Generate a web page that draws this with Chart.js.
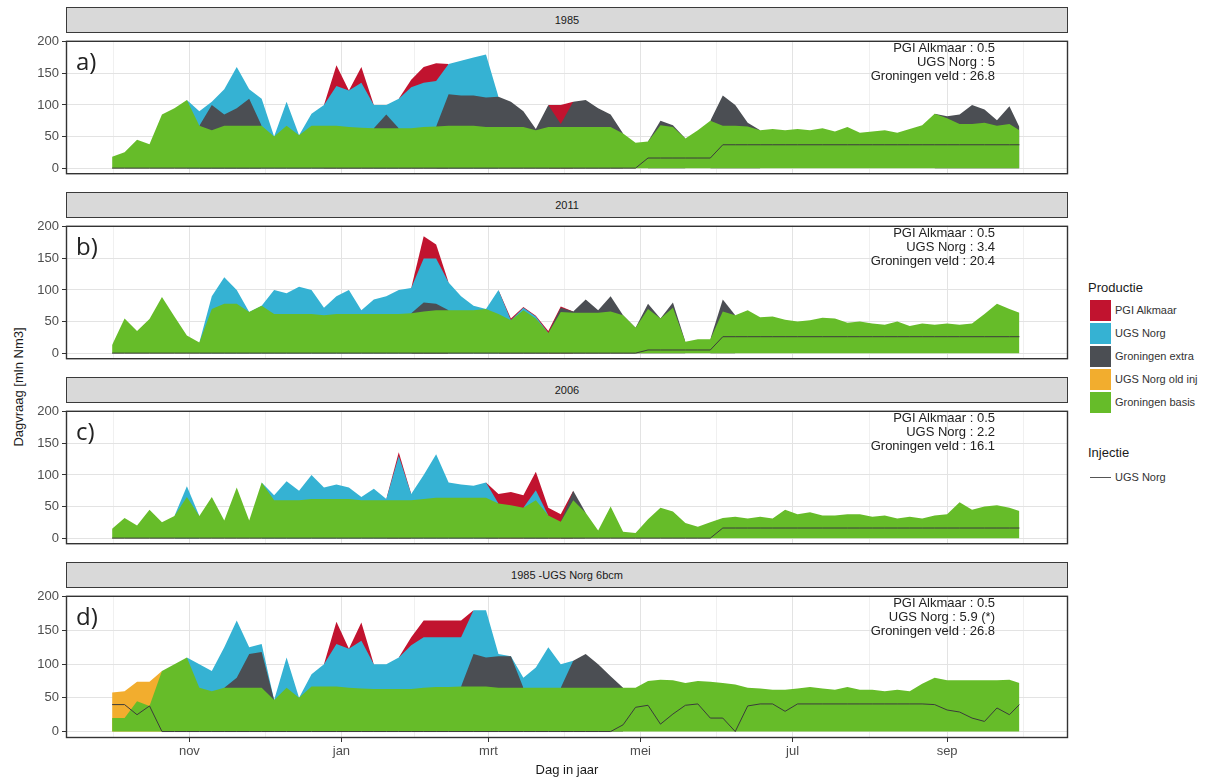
<!DOCTYPE html>
<html>
<head>
<meta charset="utf-8">
<title>Dagvraag per dag in jaar</title>
<script src="https://cdn.jsdelivr.net/npm/chart.js@4.4.1/dist/chart.umd.min.js"></script>
<style>
  html, body { margin: 0; padding: 0; background: #fff; }
  body { width: 1214px; height: 782px; position: relative; overflow: hidden; font-family: "Liberation Sans", Arial, sans-serif; }
  canvas { position: absolute; left: 0; }
  .strip { position: absolute; left: 66px; width: 1002px; height: 26px; box-sizing: border-box; background: #d9d9d9; border: 1px solid #3a3a3a; font-size: 11px; color: #1a1a1a; text-align: center; line-height: 24px; }
  .tag { position: absolute; left: 76px; font-family: "Open Sans", sans-serif; font-size: 24px; line-height: 24px; color: #222; }
  .note { position: absolute; right: 219px; text-align: right; font-size: 13px; line-height: 14px; color: #222; white-space: nowrap; }
  .ytitle { position: absolute; left: 18px; top: 387px; transform: translate(-50%, -50%) rotate(-90deg); font-size: 13px; color: #1a1a1a; white-space: nowrap; }
  .legtitle { position: absolute; left: 1088px; font-size: 13px; color: #1a1a1a; }
  .legbox { position: absolute; left: 1090px; width: 21px; height: 21px; }
  .legtext { position: absolute; left: 1115px; font-size: 11px; color: #333; line-height: 21px; white-space: nowrap; }
  .legline { position: absolute; left: 1090px; width: 21px; height: 1px; background: #555; }
</style>
</head>
<body>
<div class="ytitle">Dagvraag [mln Nm3]</div>

<div class="legtitle" style="top:280px">Productie</div>
<div class="legbox" style="top:300px;background:#c1132f"></div><div class="legtext" style="top:300px">PGI Alkmaar</div>
<div class="legbox" style="top:323px;background:#35b2d3"></div><div class="legtext" style="top:323px">UGS Norg</div>
<div class="legbox" style="top:346px;background:#4b4e53"></div><div class="legtext" style="top:346px">Groningen extra</div>
<div class="legbox" style="top:369px;background:#f2ad2e"></div><div class="legtext" style="top:369px">UGS Norg old inj</div>
<div class="legbox" style="top:392px;background:#66bc29"></div><div class="legtext" style="top:392px">Groningen basis</div>
<div class="legtitle" style="top:445px">Injectie</div>
<div class="legline" style="top:477px"></div><div class="legtext" style="top:467px">UGS Norg</div>

<script>
// day of gas year (0 = 1 okt), sampled every 5 days
const days = [0,5,10,15,20,25,30,35,40,45,
  50,55,60,65,70,75,80,85,90,95,
  100,105,110,115,120,125,130,135,140,145,
  150,155,160,165,170,175,180,185,190,195,
  200,205,210,215,220,225,230,235,240,245,
  250,255,260,265,270,275,280,285,290,295,
  300,305,310,315,320,325,330,335,340,345,
  350,355,360,364];

const monthDays = [31, 92, 151, 212, 273, 335];
const monthNames = ['nov', 'jan', 'mrt', 'mei', 'jul', 'sep'];
const minorDays = [0.5, 61.5, 121.5, 181.5, 242.5, 304, 365.5];
const yTicks = [0, 25, 50, 75, 100, 125, 150, 175, 200];

const _ = null;

// upper edge of every band (mln Nm3)
// a) 1985
const aBasis = [18,25,45,38,85,95,108,67,60,67,
  67,67,67,50,67,52,67,67,67,65,
  64,63,63,63,63,65,66,67,67,67,
  65,65,65,65,60,65,65,65,65,65,
  65,55,40,42,68,65,47,60,75,67,
  67,66,60,62,60,62,60,63,58,65,
  56,58,60,56,62,68,86,79,70,70,
  72,67,70,60];
const aExtra = [_,_,_,_,_,_,_,67,100,85,
  95,110,67,_,_,_,_,_,_,_,
  _,63,85,63,_,_,66,117,115,115,
  112,113,105,90,62,100,70,105,108,95,
  85,55,_,42,75,68,47,_,75,115,
  100,72,60,_,_,_,_,_,_,_,
  _,_,_,_,_,_,86,82,85,100,
  93,76,98,65];
const aUgs = [_,_,_,_,_,_,108,90,105,125,
  160,125,110,50,105,52,86,100,130,123,
  135,100,100,110,128,135,138,165,170,175,
  180,113,_,_,_,_,_,_,_,_,
  _,_,_,_,_,_,_,_,_,_,
  _,_,_,_,_,_,_,_,_,_,
  _,_,_,_,_,_,_,_,_,_,
  _,_,_,_];
const aPgi = [_,_,_,_,_,_,_,_,_,_,
  _,_,_,_,_,_,_,100,163,123,
  160,100,_,110,140,160,166,165,_,_,
  _,_,_,_,_,100,100,105,_,_,
  _,_,_,_,_,_,_,_,_,_,
  _,_,_,_,_,_,_,_,_,_,
  _,_,_,_,_,_,_,_,_,_,
  _,_,_,_];
const aInj = [0,0,0,0,0,0,0,0,0,0,
  0,0,0,0,0,0,0,0,0,0,
  0,0,0,0,0,0,0,0,0,0,
  0,0,0,0,0,0,0,0,0,0,
  0,0,0,16,16,16,16,16,16,37,
  37,37,37,37,37,37,37,37,37,37,
  37,37,37,37,37,37,37,37,37,37,
  37,37,37,37];

// b) 2011
const bBasis = [13,55,35,54,89,58,28,17,70,78,
  78,65,75,62,62,62,62,60,62,62,
  62,62,62,62,63,66,68,68,68,68,
  70,62,52,68,55,32,65,64,64,64,
  66,60,40,70,55,72,18,22,22,66,
  60,68,57,58,53,50,52,56,55,48,
  50,47,45,50,43,47,45,47,45,47,
  62,78,70,64];
const bExtra = [_,_,_,_,_,_,_,_,_,_,
  _,_,_,_,_,_,_,_,_,_,
  _,_,_,_,63,80,78,68,_,_,
  _,_,_,_,_,32,72,66,85,68,
  90,60,40,78,55,80,18,_,22,85,
  60,_,_,_,_,_,_,_,_,_,
  _,_,_,_,_,_,_,_,_,_,
  _,_,_,_];
const bUgs = [_,_,_,_,_,_,_,17,90,120,
  100,65,75,100,95,105,100,72,90,100,
  68,85,90,100,103,150,150,112,90,75,
  70,100,52,72,58,32,_,_,_,_,
  _,_,_,_,_,_,_,_,_,_,
  _,_,_,_,_,_,_,_,_,_,
  _,_,_,_,_,_,_,_,_,_,
  _,_,_,_];
const bPgi = [_,_,_,_,_,_,_,_,_,_,
  _,_,_,_,_,_,_,_,_,_,
  _,_,_,_,103,185,172,112,_,_,
  _,100,55,73,59,35,74,66,_,_,
  _,_,_,_,_,_,_,_,_,_,
  _,_,_,_,_,_,_,_,_,_,
  _,_,_,_,_,_,_,_,_,_,
  _,_,_,_];
const bInj = [0,0,0,0,0,0,0,0,0,0,
  0,0,0,0,0,0,0,0,0,0,
  0,0,0,0,0,0,0,0,0,0,
  0,0,0,0,0,0,0,0,0,0,
  0,0,0,5,5,5,5,5,5,26,
  26,26,26,26,26,26,26,26,26,26,
  26,26,26,26,26,26,26,26,26,26,
  26,26,26,26];

// c) 2006
const cBasis = [15,32,20,45,25,35,65,35,65,28,
  80,28,88,60,60,60,62,62,62,62,
  60,60,60,60,60,62,64,64,64,64,
  64,55,52,48,60,36,26,60,40,12,
  50,10,8,30,48,42,24,18,25,32,
  34,31,34,31,45,38,41,36,36,38,
  38,34,36,31,34,31,36,38,57,45,
  50,52,48,43];
const cExtra = [_,_,_,_,_,_,_,_,_,_,
  _,_,_,_,_,_,_,_,_,_,
  _,_,_,_,_,_,_,_,_,_,
  _,_,_,_,_,_,26,75,40,_,
  _,_,_,_,_,_,_,_,_,_,
  _,_,_,_,_,_,_,_,_,_,
  _,_,_,_,_,_,_,_,_,_,
  _,_,_,_];
const cUgs = [_,_,_,_,_,35,82,35,_,_,
  _,_,88,68,90,75,100,80,85,80,
  65,78,62,130,70,100,133,88,85,83,
  88,55,_,48,76,36,_,_,_,_,
  _,_,_,_,_,_,_,_,_,_,
  _,_,_,_,_,_,_,_,_,_,
  _,_,_,_,_,_,_,_,_,_,
  _,_,_,_];
const cPgi = [_,_,_,_,_,_,_,_,_,_,
  _,_,_,_,_,_,_,_,_,_,
  _,_,62,136,70,_,_,_,_,_,
  88,70,73,68,105,48,38,75,_,_,
  _,_,_,_,_,_,_,_,_,_,
  _,_,_,_,_,_,_,_,_,_,
  _,_,_,_,_,_,_,_,_,_,
  _,_,_,_];
const cInj = [0,0,0,0,0,0,0,0,0,0,
  0,0,0,0,0,0,0,0,0,0,
  0,0,0,0,0,0,0,0,0,0,
  0,0,0,0,0,0,0,0,0,0,
  0,0,0,0,0,0,0,0,0,16,
  16,16,16,16,16,16,16,16,16,16,
  16,16,16,16,16,16,16,16,16,16,
  16,16,16,16];

// d) 1985 -UGS Norg 6bcm
const dBasis = [20,20,45,38,90,100,110,65,60,65,
  65,65,65,47,65,50,67,67,67,65,
  64,63,63,63,63,65,66,66,67,67,
  67,65,65,65,65,65,65,65,65,65,
  65,65,65,75,77,76,72,75,74,72,
  70,65,64,62,62,64,66,64,62,66,
  62,62,60,62,60,71,80,76,76,76,
  76,76,77,72];
const dOld = [58,60,74,74,90,_,_,_,_,_,
  _,_,_,_,_,_,_,_,_,_,
  _,_,_,_,_,_,_,_,_,_,
  _,_,_,_,_,_,_,_,_,_,
  _,_,_,_,_,_,_,_,_,_,
  _,_,_,_,_,_,_,_,_,_,
  _,_,_,_,_,_,_,_,_,_,
  _,_,_,_];
const dExtra = [_,_,_,_,_,_,_,_,_,65,
  80,115,118,47,_,_,_,_,_,_,
  _,_,_,_,_,_,_,_,67,115,
  110,112,112,65,_,_,65,105,115,100,
  82,65,_,_,_,_,_,_,_,_,
  _,_,_,_,_,_,_,_,_,_,
  _,_,_,_,_,_,_,_,_,_,
  _,_,_,_];
const dUgs = [_,_,_,_,_,_,110,100,90,125,
  165,125,130,47,110,50,85,100,130,123,
  135,100,100,110,128,140,140,140,140,180,
  180,115,112,80,95,125,100,105,_,_,
  _,_,_,_,_,_,_,_,_,_,
  _,_,_,_,_,_,_,_,_,_,
  _,_,_,_,_,_,_,_,_,_,
  _,_,_,_];
const dPgi = [_,_,_,_,_,_,_,_,_,_,
  _,_,_,_,_,_,_,100,163,123,
  162,100,_,110,140,165,165,165,165,180,
  _,_,_,_,_,_,_,_,_,_,
  _,_,_,_,_,_,_,_,_,_,
  _,_,_,_,_,_,_,_,_,_,
  _,_,_,_,_,_,_,_,_,_,
  _,_,_,_];
const dInj = [40,40,25,38,0,0,0,0,0,0,
  0,0,0,0,0,0,0,0,0,0,
  0,0,0,0,0,0,0,0,0,0,
  0,0,0,0,0,0,0,0,0,0,
  0,10,36,39,11,26,39,41,20,20,
  0,38,41,41,30,41,41,41,41,41,
  41,41,41,41,41,41,40,32,29,20,
  15,35,25,40];

const panels = [
  { strip: '1985', tag: 'a)', notes: ['PGI Alkmaar : 0.5', 'UGS Norg : 5', 'Groningen veld : 26.8'],
    basis: aBasis, old: [], extra: aExtra, ugs: aUgs, pgi: aPgi, inj: aInj },
  { strip: '2011', tag: 'b)', notes: ['PGI Alkmaar : 0.5', 'UGS Norg : 3.4', 'Groningen veld : 20.4'],
    basis: bBasis, old: [], extra: bExtra, ugs: bUgs, pgi: bPgi, inj: bInj },
  { strip: '2006', tag: 'c)', notes: ['PGI Alkmaar : 0.5', 'UGS Norg : 2.2', 'Groningen veld : 16.1'],
    basis: cBasis, old: [], extra: cExtra, ugs: cUgs, pgi: cPgi, inj: cInj },
  { strip: '1985 -UGS Norg 6bcm', tag: 'd)', notes: ['PGI Alkmaar : 0.5', 'UGS Norg : 5.9 (*)', 'Groningen veld : 26.8'],
    basis: dBasis, old: dOld, extra: dExtra, ugs: dUgs, pgi: dPgi, inj: dInj }
];

const plotTops = [32, 217, 402, 587];
const plotH = 151;

const panelBorder = {
  id: 'panelBorder',
  afterDraw(chart) {
    const a = chart.chartArea;
    const ctx = chart.ctx;
    ctx.save();
    ctx.strokeStyle = '#333';
    ctx.lineWidth = 1.4;
    ctx.strokeRect(a.left + 0.5, a.top + 0.5, a.right - a.left - 1, a.bottom - a.top - 1);
    ctx.restore();
  }
};

function area(label, data, color) {
  return {
    label: label,
    data: data,
    backgroundColor: color,
    borderColor: 'rgba(0,0,0,0)',
    borderWidth: 0,
    pointRadius: 0,
    fill: 'origin',
    tension: 0,
    spanGaps: false
  };
}

function isMajorX(v) { return monthDays.indexOf(v) >= 0; }

panels.forEach((p, i) => {
  const last = i === panels.length - 1;
  const top = plotTops[i];

  const strip = document.createElement('div');
  strip.className = 'strip';
  strip.style.top = (top - 25) + 'px';
  strip.textContent = p.strip;
  document.body.appendChild(strip);

  const canvas = document.createElement('canvas');
  canvas.width = 1070;
  canvas.height = last ? 782 - (top - 2) : plotH + 4;
  canvas.style.top = (top - 2) + 'px';
  document.body.appendChild(canvas);

  const tag = document.createElement('div');
  tag.className = 'tag';
  tag.style.top = (top + 17) + 'px';
  tag.textContent = p.tag;
  document.body.appendChild(tag);

  const note = document.createElement('div');
  note.className = 'note';
  note.style.top = (top + 9) + 'px';
  note.innerHTML = p.notes.join('<br>');
  document.body.appendChild(note);

  new Chart(canvas.getContext('2d'), {
    type: 'line',
    data: {
      labels: days,
      datasets: [
        { label: 'UGS Norg injectie', data: p.inj, borderColor: '#3b3b3b', borderWidth: 1, pointRadius: 0, fill: false, tension: 0 },
        area('Groningen basis', p.basis, '#66bc29'),
        area('UGS Norg old inj', p.old, '#f2ad2e'),
        area('Groningen extra', p.extra, '#4b4e53'),
        area('UGS Norg', p.ugs, '#35b2d3'),
        area('PGI Alkmaar', p.pgi, '#c1132f')
      ]
    },
    options: {
      responsive: false,
      animation: false,
      devicePixelRatio: 1,
      layout: { padding: { top: 2, right: 2, bottom: last ? 0 : 2, left: 0 } },
      plugins: { legend: { display: false }, tooltip: { enabled: false } },
      scales: {
        x: {
          type: 'linear',
          min: -18.5,
          max: 383.5,
          afterBuildTicks: s => {
            s.ticks = monthDays.concat(minorDays).sort((m, n) => m - n).map(v => ({ value: v }));
          },
          afterFit: s => { s.height = last ? 44 : 0; },
          ticks: {
            display: last,
            autoSkip: false,
            maxRotation: 0,
            padding: 2,
            color: '#4d4d4d',
            font: { size: 13, family: '"Liberation Sans", Arial, sans-serif' },
            callback: v => {
              const k = monthDays.indexOf(v);
              return k >= 0 ? monthNames[k] : '';
            }
          },
          grid: {
            color: c => (c.tick && isMajorX(c.tick.value)) ? '#e3e3e3' : '#f0f0f0',
            lineWidth: 1,
            drawTicks: last,
            tickLength: 4,
            tickColor: c => (c.tick && isMajorX(c.tick.value)) ? '#333' : 'rgba(0,0,0,0)'
          },
          border: { display: false },
          title: {
            display: last,
            text: 'Dag in jaar',
            color: '#1a1a1a',
            font: { size: 13, family: '"Liberation Sans", Arial, sans-serif' },
            padding: { top: 0, bottom: 4 }
          }
        },
        y: {
          min: -9.6,
          max: 201.6,
          afterBuildTicks: s => { s.ticks = yTicks.map(v => ({ value: v })); },
          afterFit: s => { s.width = 66; },
          ticks: {
            color: '#4d4d4d',
            padding: 3,
            font: { size: 13, family: '"Liberation Sans", Arial, sans-serif' },
            callback: v => (v % 50 === 0 ? String(v) : '')
          },
          grid: {
            color: c => (c.tick && c.tick.value % 50 === 0) ? '#e3e3e3' : '#f0f0f0',
            lineWidth: 1,
            tickLength: 4,
            tickColor: c => (c.tick && c.tick.value % 50 === 0) ? '#333' : 'rgba(0,0,0,0)'
          },
          border: { display: false }
        }
      }
    },
    plugins: [panelBorder]
  });
});
</script>
</body>
</html>
